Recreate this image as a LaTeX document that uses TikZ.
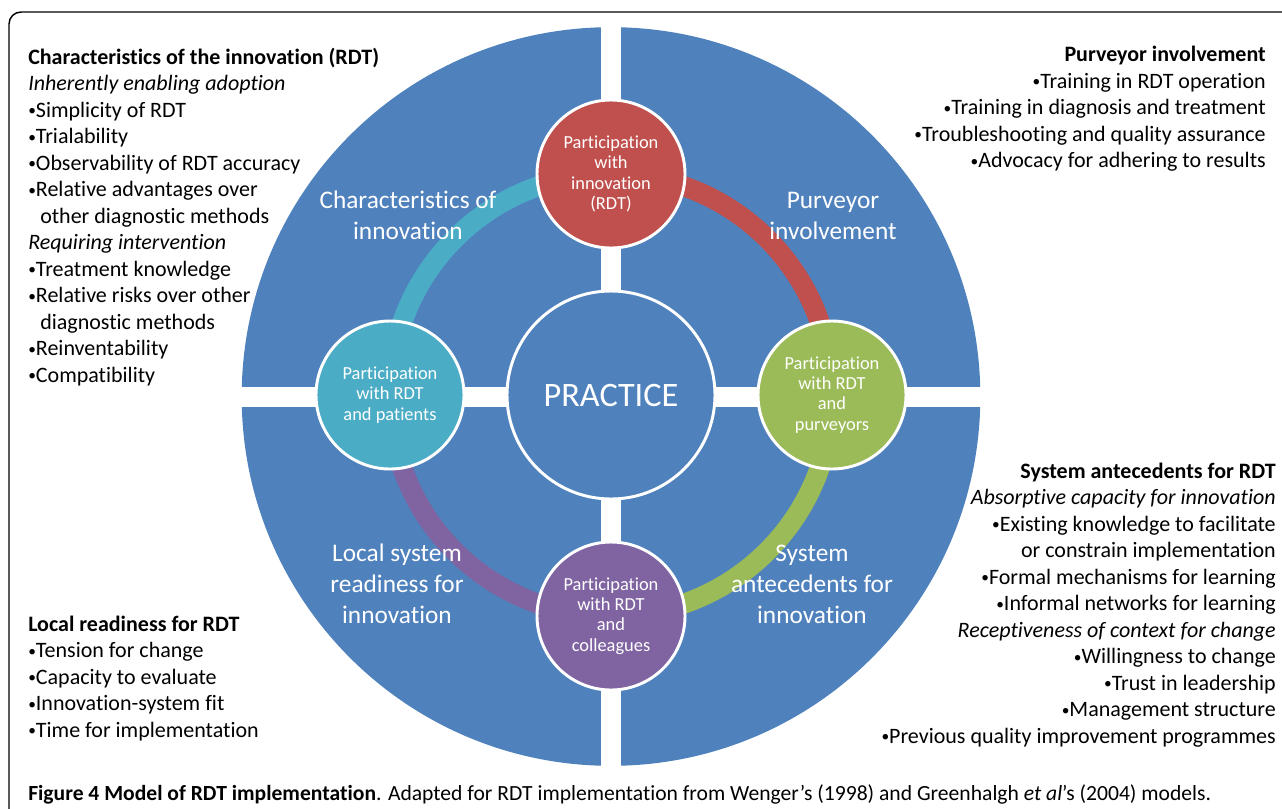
\documentclass[tikz,border=0pt]{standalone}
\usepackage{fontspec}
\setmainfont{Carlito}[Ligatures={TeX,NoCommon}]
\definecolor{rdtblue}{HTML}{4F81BD}
\definecolor{rdtred}{HTML}{C0504D}
\definecolor{rdtgreen}{HTML}{9BBB59}
\definecolor{rdtpurple}{HTML}{8064A2}
\definecolor{rdtcyan}{HTML}{4BACC6}
\newcommand\bul{\raisebox{1.2pt}{\scalebox{0.7}{•}}}
\pgfdeclarelayer{back}
\pgfdeclarelayer{mid}
\pgfsetlayers{back,mid,main}
\begin{document}
\begin{tikzpicture}[x=0.75pt, y=-0.75pt,
    gap/.style={white, line width=15pt},
    ring/.style={line width=15pt},
    part/.style={circle, draw=white, line width=2.2pt, inner sep=0,
        minimum size=111pt, text=white, align=center,
        font=\fontsize{13.8}{15.2}\selectfont},
    quad/.style={text=white, align=center, inner sep=0,
        font=\fontsize{19}{23.25}\selectfont},
    block/.style={inner sep=0, font=\fontsize{16.5}{19.9}\selectfont}]
    \useasboundingbox (0,0) rectangle (1282,808);
    % frame
    \draw [line width=1.1pt, rounded corners=9pt] (9,812) -- (9,12) -- (1290,12);

    % participation circles
    \node [part, fill=rdtred]    (pinn) at (611,174) {Participation\\with\\innovation\\(RDT)};
    \node [part, fill=rdtgreen]  (ppur) at (832,395) {Participation\\with RDT\\and\\purveyors};
    \node [part, fill=rdtpurple] (pcol) at (611,616) {Participation\\with RDT\\and\\colleagues};
    \node [part, fill=rdtcyan]   (ppat) at (390,395) {Participation\\with RDT\\and patients};

    % practice
    \node [circle, draw=white, line width=2.2pt, fill=rdtblue, minimum size=156pt,
        text=white, font=\fontsize{25.7}{30}\selectfont] (practice) at (611,395) {PRACTICE};

    % big circle and the cross
    \begin{pgfonlayer}{back}
        \node [circle, fill=rdtblue, minimum size=554pt, inner sep=0] (model) at (611,396.5) {};
        \draw [gap] ([yshift=2pt]model.north) -- ([yshift=-2pt]model.south);
        \draw [gap] ([xshift=-2pt]model.west) -- ([xshift=2pt]model.east);
    \end{pgfonlayer}

    %% ring
    \begin{pgfonlayer}{mid}
        \draw [ring, rdtcyan]   (ppat.center) arc [start angle=180, end angle=90,  radius=165.75pt];
        \draw [ring, rdtred]    (pinn.center) arc [start angle=90,  end angle=0,   radius=165.75pt];
        \draw [ring, rdtgreen]  (ppur.center) arc [start angle=0,   end angle=-90, radius=165.75pt];
        \draw [ring, rdtpurple] (pcol.center) arc [start angle=270, end angle=180, radius=165.75pt];
    \end{pgfonlayer}

    % quadrant labels
    \node [quad] (qinn) at (408,215.5) {Characteristics of\\innovation};
    \node [quad] (qpur) at (833,215.5) {Purveyor\\involvement};
    \node [quad] (qloc) at (397,584) {Local system\\readiness for\\innovation};
    \node [quad] (qsys) at (812,584) {System\\antecedents for\\innovation};

    % text blocks (base = last line)
    \node [block, align=left, anchor=base west] (tinn) at (28,382.5) {%
        \textbf{Characteristics of the innovation (RDT)}\\
        \textit{Inherently enabling adoption}\\
        \bul Simplicity of RDT\\
        \bul Trialability\\
        \bul Observability of RDT accuracy\\
        \bul Relative advantages over\\
        \hspace*{9pt}other diagnostic methods\\
        \textit{Requiring intervention}\\
        \bul Treatment knowledge\\
        \bul Relative risks over other\\
        \hspace*{9pt}diagnostic methods\\
        \bul Reinventability\\
        \bul Compatibility};
    \node [block, align=right, anchor=base east] (tpur) at (1266,167.7) {%
        \textbf{Purveyor involvement}\\
        \bul Training in RDT operation\\
        \bul Training in diagnosis and treatment\\
        \bul Troubleshooting and quality assurance\\
        \bul Advocacy for adhering to results};
    \node [block, align=right, anchor=base east] (tsys) at (1276,743.5) {%
        \textbf{System antecedents for RDT}\\
        \textit{Absorptive capacity for innovation}\\
        \bul Existing knowledge to facilitate\\
        or constrain implementation\\
        \bul Formal mechanisms for learning\\
        \bul Informal networks for learning\\
        \textit{Receptiveness of context for change}\\
        \bul Willingness to change\\
        \bul Trust in leadership\\
        \bul Management structure\\
        \bul Previous quality improvement programmes};
    \node [block, align=left, anchor=base west] (tloc) at (28,737.5) {%
        \textbf{Local readiness for RDT}\\
        \bul Tension for change\\
        \bul Capacity to evaluate\\
        \bul Innovation-system fit\\
        \bul Time for implementation};

    % caption
    \node [inner sep=0, anchor=base west, font=\fontsize{16.2}{19}\selectfont] (caption) at (28,800)
        {\textbf{Figure 4 Model of RDT implementation}. Adapted for RDT implementation from Wenger's (1998) and Greenhalgh \textit{et al}'s (2004) models.};
\end{tikzpicture}
\end{document}
